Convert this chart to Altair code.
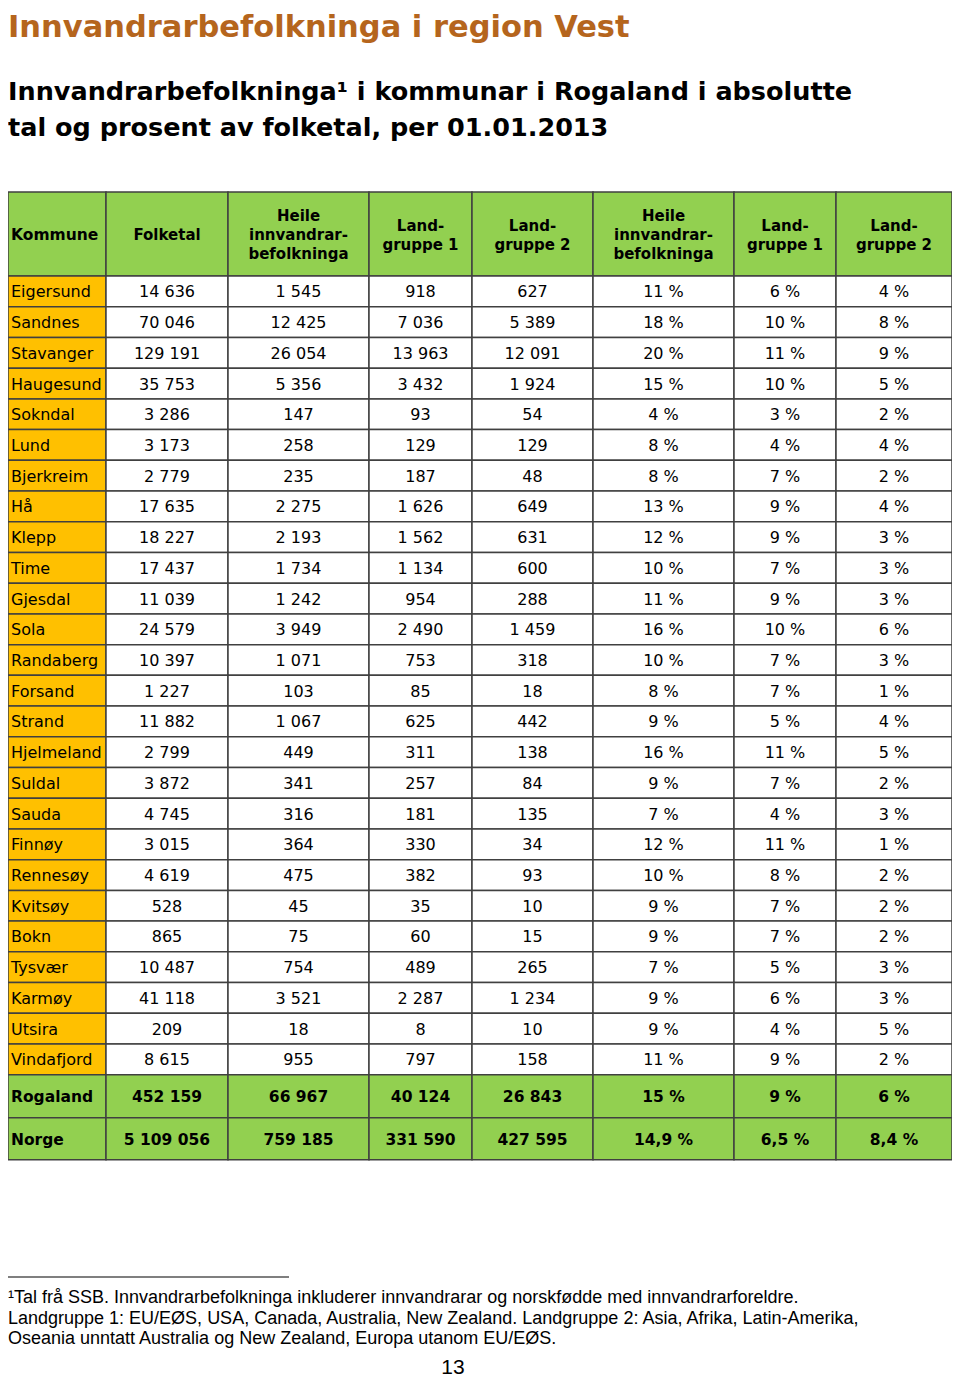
import altair as alt
import pandas as pd

# ---------------- data ----------------
TITLE = "Innvandrarbefolkninga i region Vest"
SUBTITLE = [
    "Innvandrarbefolkninga¹ i kommunar i Rogaland i absolutte",
    "tal og prosent av folketal, per 01.01.2013",
]
HEADERS = [
    "Kommune", "Folketal", "Heile\ninnvandrar-\nbefolkninga", "Land-\ngruppe 1",
    "Land-\ngruppe 2", "Heile\ninnvandrar-\nbefolkninga", "Land-\ngruppe 1", "Land-\ngruppe 2",
]
KOMMUNE = ["Eigersund", "Sandnes", "Stavanger", "Haugesund", "Sokndal", "Lund", "Bjerkreim",
           "Hå", "Klepp", "Time", "Gjesdal", "Sola", "Randaberg", "Forsand", "Strand",
           "Hjelmeland", "Suldal", "Sauda", "Finnøy", "Rennesøy", "Kvitsøy", "Bokn",
           "Tysvær", "Karmøy", "Utsira", "Vindafjord"]
FOLKETAL = [14636, 70046, 129191, 35753, 3286, 3173, 2779, 17635, 18227, 17437, 11039, 24579,
            10397, 1227, 11882, 2799, 3872, 4745, 3015, 4619, 528, 865, 10487, 41118, 209, 8615]
HEILE = [1545, 12425, 26054, 5356, 147, 258, 235, 2275, 2193, 1734, 1242, 3949, 1071, 103,
         1067, 449, 341, 316, 364, 475, 45, 75, 754, 3521, 18, 955]
LG1 = [918, 7036, 13963, 3432, 93, 129, 187, 1626, 1562, 1134, 954, 2490, 753, 85, 625, 311,
       257, 181, 330, 382, 35, 60, 489, 2287, 8, 797]
LG2 = [627, 5389, 12091, 1924, 54, 129, 48, 649, 631, 600, 288, 1459, 318, 18, 442, 138, 84,
       135, 34, 93, 10, 15, 265, 1234, 10, 158]
PCT_HEILE = [11, 18, 20, 15, 4, 8, 8, 13, 12, 10, 11, 16, 10, 8, 9, 16, 9, 7, 12, 10, 9, 9, 7, 9, 9, 11]
PCT_LG1 = [6, 10, 11, 10, 3, 4, 7, 9, 9, 7, 9, 10, 7, 7, 5, 11, 7, 4, 11, 8, 7, 7, 5, 6, 4, 9]
PCT_LG2 = [4, 8, 9, 5, 2, 4, 2, 4, 3, 3, 3, 6, 3, 1, 4, 5, 2, 3, 1, 2, 2, 2, 3, 3, 5, 2]

TOTAL_NAMES = ["Rogaland", "Norge"]
TOTAL_FOLKETAL = [452159, 5109056]
TOTAL_HEILE = [66967, 759185]
TOTAL_LG1 = [40124, 331590]
TOTAL_LG2 = [26843, 427595]
TOTAL_PCT_HEILE = [15, 14.9]
TOTAL_PCT_LG1 = [9, 6.5]
TOTAL_PCT_LG2 = [6, 8.4]

FOOTNOTE = [
    "¹Tal frå SSB. Innvandrarbefolkninga inkluderer innvandrarar og norskfødde med innvandrarforeldre.",
    "Landgruppe 1: EU/EØS, USA, Canada, Australia, New Zealand. Landgruppe 2: Asia, Afrika, Latin-Amerika,",
    "Oseania unntatt Australia og New Zealand, Europa utanom EU/EØS.",
]
PAGE = "13"

# ---------------- layout ----------------
W, H = 944, 1374
COL_EDGES = [0, 98, 220, 361, 464, 585, 726, 828, 944]
HEAD_TOP, HEAD_BOTTOM = 184, 268
ROW_H = 30.72
TOTAL_H = [43, 42]
HEAD_LH = 19
GREEN = "#92D050"
ORANGE = "#FFC000"
BORDER = "#404040"


def fmt_int(v):
    return f"{v:,}".replace(",", " ")


def fmt_pct(v):
    return f"{v:g}".replace(".", ",") + " %"


rows = []
rows.append((HEAD_TOP, HEAD_BOTTOM, "header", HEADERS))
y = HEAD_BOTTOM
for i, name in enumerate(KOMMUNE):
    vals = [name, fmt_int(FOLKETAL[i]), fmt_int(HEILE[i]), fmt_int(LG1[i]), fmt_int(LG2[i]),
            fmt_pct(PCT_HEILE[i]), fmt_pct(PCT_LG1[i]), fmt_pct(PCT_LG2[i])]
    rows.append((y, y + ROW_H, "body", vals))
    y += ROW_H
for i, name in enumerate(TOTAL_NAMES):
    vals = [name, fmt_int(TOTAL_FOLKETAL[i]), fmt_int(TOTAL_HEILE[i]), fmt_int(TOTAL_LG1[i]),
            fmt_int(TOTAL_LG2[i]), fmt_pct(TOTAL_PCT_HEILE[i]), fmt_pct(TOTAL_PCT_LG1[i]),
            fmt_pct(TOTAL_PCT_LG2[i])]
    rows.append((y, y + TOTAL_H[i], "total", vals))
    y += TOTAL_H[i]

records = []
for (y0, y1, kind, vals) in rows:
    for c, label in enumerate(vals):
        x0, x1 = COL_EDGES[c], COL_EDGES[c + 1]
        if kind == "body":
            fill = ORANGE if c == 0 else "#FFFFFF"
        else:
            fill = GREEN
        n_lines = label.count("\n") + 1
        yc = (y0 + y1) / 2
        records.append(dict(x0=x0, x1=x1, y0=y0, y1=y1, xc=(x0 + x1) / 2, xl=x0 + 3,
                            yc=yc, yt=yc - (n_lines - 1) * HEAD_LH / 2,
                            fill=fill, label=label, kind=kind, col=c))
cells = pd.DataFrame(records)

xs = alt.Scale(domain=[0, W], range=[0, W], nice=False, zero=False)
ys = alt.Scale(domain=[0, H], range=[0, H], nice=False, zero=False)

base = alt.Chart(cells)

rects = base.mark_rect(stroke=BORDER, strokeWidth=1.5).encode(
    x=alt.X("x0:Q", scale=xs, axis=None),
    x2="x1:Q",
    y=alt.Y("y0:Q", scale=ys, axis=None),
    y2="y1:Q",
    fill=alt.Fill("fill:N", scale=None),
)


def text_layer(filt, align, xfield, font, size, weight, dy=0):
    kw = dict(align=align, baseline="middle", font=font, fontSize=size, fontWeight=weight,
              color="#000000", lineBreak="\n", lineHeight=HEAD_LH, dy=dy)
    return base.transform_filter(filt).mark_text(**kw).encode(
        x=alt.X(f"{xfield}:Q", scale=xs, axis=None),
        y=alt.Y("yt:Q", scale=ys, axis=None),
        text="label:N",
    )


t_head = text_layer("datum.kind == 'header' && datum.col > 0", "center", "xc",
                    "DejaVu Sans", 15, "bold", 1)
t_head_left = text_layer("datum.kind != 'body' && datum.col == 0", "left", "xl",
                         "DejaVu Sans", 15.5, "bold", 1)
t_tot = text_layer("datum.kind == 'total' && datum.col > 0", "center", "xc",
                   "DejaVu Sans", 15.5, "bold", 1)
t_name = text_layer("datum.kind == 'body' && datum.col == 0", "left", "xl",
                    "DejaVu Sans", 16, "normal", 1)
t_body = text_layer("datum.kind == 'body' && datum.col > 0", "center", "xc",
                    "DejaVu Sans", 16, "normal", 1)

# titles
title = alt.Chart(pd.DataFrame({"label": [TITLE]})).mark_text(
    align="left", baseline="alphabetic", font="DejaVu Sans", fontSize=30.5,
    fontWeight="bold", color="#B5651D"
).encode(x=alt.value(0), y=alt.value(29), text="label:N")

sub1 = alt.Chart(pd.DataFrame({"label": [SUBTITLE[0]]})).mark_text(
    align="left", baseline="alphabetic", font="DejaVu Sans", fontSize=25.5,
    fontWeight="bold", color="#000000"
).encode(x=alt.value(0), y=alt.value(92), text="label:N")
sub2 = alt.Chart(pd.DataFrame({"label": [SUBTITLE[1]]})).mark_text(
    align="left", baseline="alphabetic", font="DejaVu Sans", fontSize=25.5,
    fontWeight="bold", color="#000000"
).encode(x=alt.value(0), y=alt.value(128), text="label:N")

rule = alt.Chart(pd.DataFrame({"a": [0]})).mark_rule(color="#000000", strokeWidth=1.2).encode(
    x=alt.value(0), x2=alt.value(281), y=alt.value(1269)
)

foot_layers = []
for i, line in enumerate(FOOTNOTE):
    foot_layers.append(
        alt.Chart(pd.DataFrame({"label": [line]})).mark_text(
            align="left", baseline="alphabetic", font="Liberation Sans", fontSize=18,
            color="#000000"
        ).encode(x=alt.value(0), y=alt.value(1295 + i * 20.5), text="label:N")
    )

page = alt.Chart(pd.DataFrame({"label": [PAGE]})).mark_text(
    align="center", baseline="middle", font="Liberation Sans", fontSize=21, color="#000000"
).encode(x=alt.value(445), y=alt.value(1360), text="label:N")

chart = alt.layer(
    rects, t_head, t_head_left, t_tot, t_name, t_body, title, sub1, sub2, rule, *foot_layers, page
).properties(
    width=W, height=H, autosize=alt.AutoSizeParams(type="none"), padding=0,
    background="#FFFFFF"
).configure_view(stroke=None)

chart.save("out.html", embed_options={"renderer": "svg", "actions": False})
